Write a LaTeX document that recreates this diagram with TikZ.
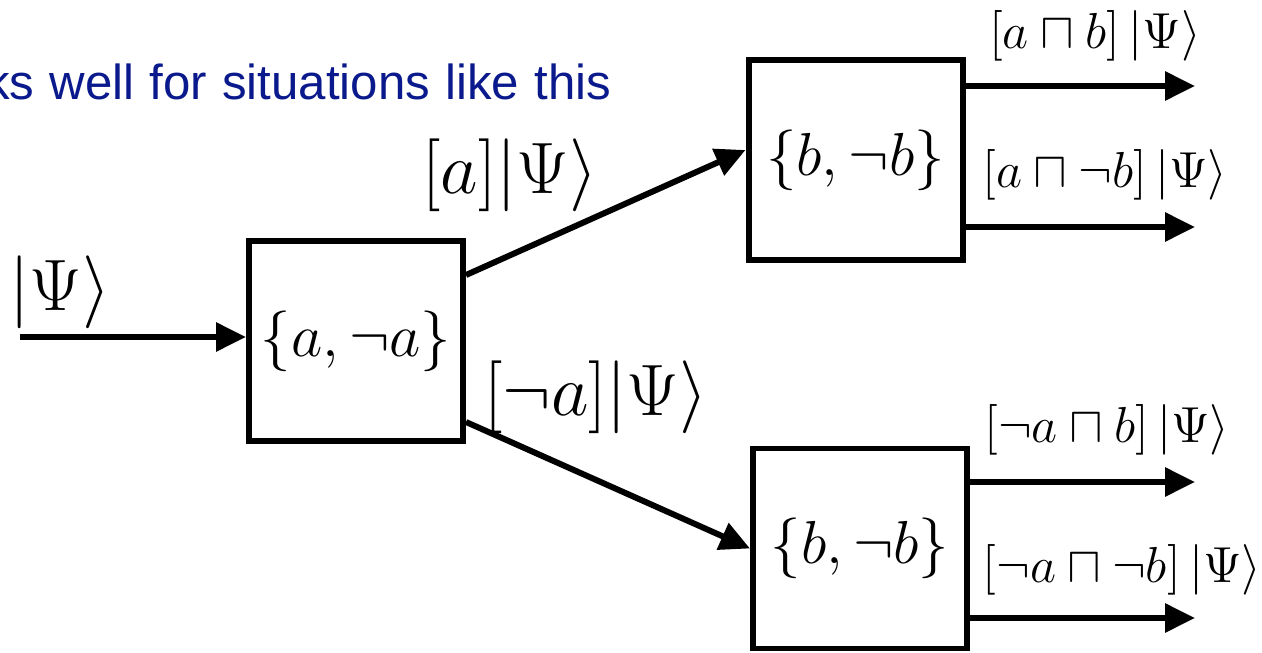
\documentclass[tikz,border=0pt]{standalone}
\usepackage{amsmath}
\usepackage{fontspec}
\usepackage{xcolor}
\usepackage{tikz}
\usetikzlibrary{arrows.meta}
\newfontfamily\headfont[WordSpace=1.12]{Liberation Sans}
\definecolor{headblue}{RGB}{10,25,140}

\begin{document}
\begin{tikzpicture}[x=1cm,y=1cm,
  box/.style={draw,line width=1.7pt,minimum width=2.14cm,minimum height=2.0cm,
              inner sep=0pt,font=\fontsize{16}{19}\selectfont},
  big/.style={inner sep=0pt,font=\fontsize{19.5}{23}\selectfont},
  res/.style={inner sep=0pt,font=\fontsize{14}{17}\selectfont},
  arr/.style={line width=1.7pt,-{Triangle[length=0.3cm,width=0.28cm]}}]

  \useasboundingbox (0,0) rectangle (12.62,6.52);

  % heading (cut off at the left edge)
  \node[anchor=east,inner sep=0pt,text=headblue,font=\headfont\fontsize{14}{17}\selectfont]
        (head) at (6.12,5.70) {ks well for situations like this};

  % measuring boxes
  \node[box] (A)  at (3.56,3.11) {$\{a,\neg a\}$};
  \node[box] (B1) at (8.555,4.92) {$\{b,\neg b\}$};
  \node[box] (B2) at (8.60,1.035) {$\{b,\neg b\}$};

  % incoming state
  \coordinate (in) at (0.20,3.15);
  \draw[arr] (in) -- (A.west |- in);
  \node[big] (psi) at (0.60,3.60) {$|\Psi\rangle$};

  % first split
  \draw[arr] ([yshift=-0.37cm]A.north east) -- ([yshift=0.10cm]B1.west);
  \draw[arr] ([yshift=0.22cm]A.south east) -- (B2.west);
  \node[big] (pa)  at (5.10,4.77) {$[a]|\Psi\rangle$};
  \node[big] (pna) at (5.96,2.55) {$[\neg a]|\Psi\rangle$};

  % second split, four outputs
  \foreach \b/\n/\yy in {B1/o1/5.66, B1/o2/4.25, B2/o3/1.70, B2/o4/0.34} {
    \coordinate (\n) at (11.95,\yy);
    \draw[arr] (\b.east |- \n) -- (\n);
  }
  \node[res] (r1) at (10.95,6.16) {$[a\sqcap b]\,|\Psi\rangle$};
  \node[res] (r2) at (11.05,4.77) {$[a\sqcap \neg b]\,|\Psi\rangle$};
  \node[res] (r3) at (11.07,2.22) {$[\neg a\sqcap b]\,|\Psi\rangle$};
  \node[res] (r4) at (11.22,0.82) {$[\neg a\sqcap \neg b]\,|\Psi\rangle$};

\end{tikzpicture}
\end{document}
